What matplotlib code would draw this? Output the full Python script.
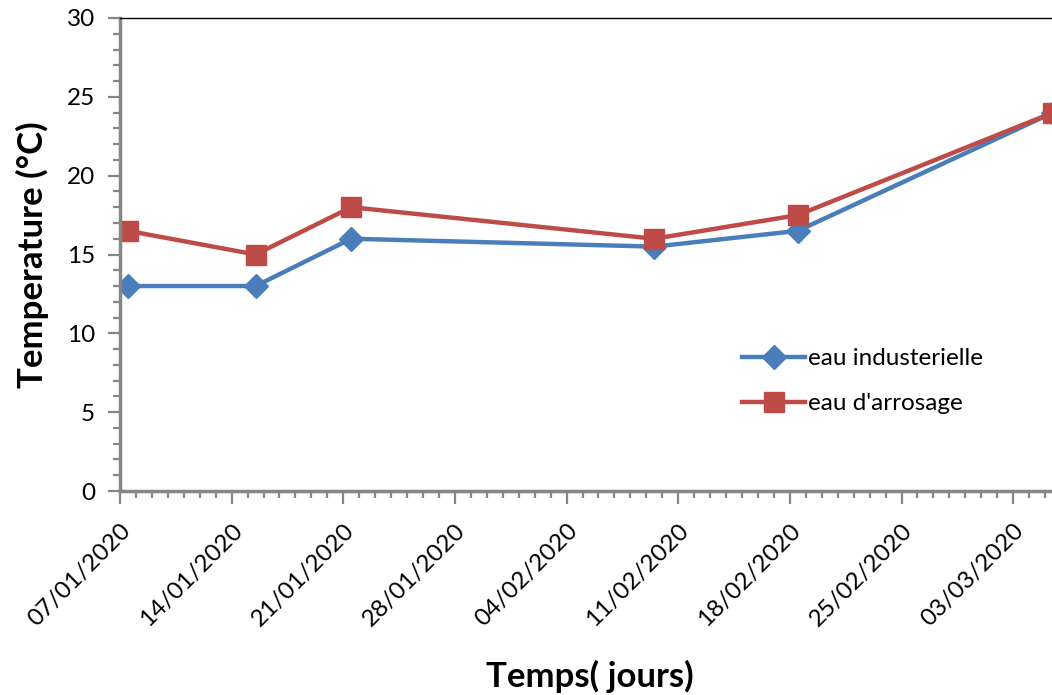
import matplotlib
matplotlib.use("Agg")
import matplotlib.pyplot as plt
import matplotlib.dates as mdates
import numpy as np
import pandas as pd

# données
dates = pd.to_datetime(["2020-01-07", "2020-01-15", "2020-01-21",
                        "2020-02-09", "2020-02-18", "2020-03-05"])
eau_indus = [13, 13, 16, 15.5, 16.5, 24]
eau_arros = [16.5, 15, 18, 16, 17.5, 24]
labels = ["eau industerielle", "eau d'arrosage"]

bleu = "#4A7EBB"
rouge = "#BE4B48"
gris = "#868686"

plt.rcParams['font.family'] = ['Lato', 'DejaVu Sans']

fig = plt.figure(figsize=(10.52, 6.95), dpi=100)
W, H = 1052, 695
ax = fig.add_axes([120 / W, (H - 491) / H, (1061 - 120) / W, (491 - 18) / H])

# style Excel : points au milieu de la journée
x = dates + pd.Timedelta(hours=12)
ax.plot(x, eau_indus, color=bleu, lw=3.2, marker='D', ms=12.5, label=labels[0])
ax.plot(x, eau_arros, color=rouge, lw=3.2, marker='s', ms=14, label=labels[1])

ax.set_xlim(pd.Timestamp("2020-01-07"), pd.Timestamp("2020-03-06"))
ax.set_ylim(0, 30)

ax.xaxis.set_major_locator(mdates.WeekdayLocator(byweekday=mdates.TU))
ax.xaxis.set_minor_locator(mdates.DayLocator())
ax.xaxis.set_major_formatter(mdates.DateFormatter("%d/%m/%Y"))
ax.set_yticks(np.arange(0, 31, 5))
ax.set_yticks(np.arange(0, 31, 1), minor=True)

for lab in ax.get_xticklabels():
    lab.set_rotation(45)
    lab.set_ha('right')
    lab.set_rotation_mode('anchor')

ax.tick_params(axis='both', which='major', labelsize=17.5, length=9, width=1.6,
               color=gris, direction='out')
ax.tick_params(axis='both', which='minor', length=5, width=1.6, color=gris,
               direction='out')
ax.tick_params(axis='y', which='major', pad=9)
ax.tick_params(axis='x', which='major', pad=12)

for s in ['left', 'bottom']:
    ax.spines[s].set_color(gris)
    ax.spines[s].set_linewidth(2.5)
ax.spines['top'].set_color('black')
ax.spines['top'].set_linewidth(1)
ax.spines['right'].set_visible(False)

ax.set_ylabel("Temperature (°C)", fontsize=25, fontweight='bold', va='center')
ax.yaxis.set_label_coords(-(120 - 32) / (1061 - 120), (491 - 255) / (491 - 18))
ax.set_xlabel("Temps( jours)", fontsize=25, fontweight='bold', va='center')
ax.xaxis.set_label_coords((590 - 120) / (1061 - 120), -(676 - 491) / (491 - 18))

fig.legend(loc='upper left', bbox_to_anchor=(742 / W, 1 - 348 / H),
           frameon=False, fontsize=17.5, handlelength=2.6, handletextpad=0.1,
           labelspacing=1.0, borderpad=0, borderaxespad=0)

fig.savefig("out.png", dpi=100)
